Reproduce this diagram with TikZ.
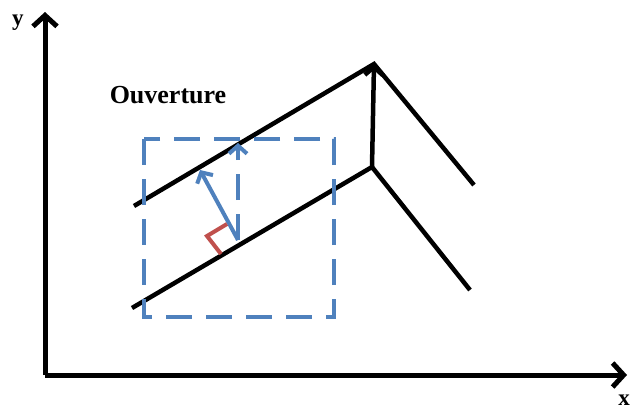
\documentclass[tikz,border=0pt]{standalone}
\usepackage{fontspec}
\setmainfont{Liberation Serif}
\usetikzlibrary{arrows.meta}
\definecolor{offblue}{RGB}{79,129,189}
\definecolor{offred}{RGB}{192,80,77}

\begin{document}
\begin{tikzpicture}[x=1pt,y=-1pt,
    axis/.style={line width=5pt,-{Straight Barb[length=11pt,width=24pt]}},
    wall/.style={line width=4.5pt},
    openbox/.style={offblue,line width=4pt,dash pattern=on 26pt off 14pt},
    normalarrow/.style={offblue,line width=4pt,-{Straight Barb[length=8pt,width=18pt]}},
    label/.style={font=\bfseries\fontsize{23}{23}\selectfont,inner sep=0pt}]
        % frame of the image, pixel units with y pointing down
        \useasboundingbox (0,0) rectangle (631,410);

        \coordinate (O) at (45,375);
        \coordinate (Y) at (45,12);
        \coordinate (X) at (627,375);

        % upper wall and lower wall, both with a kink
        \coordinate (U1) at (134,206);
        \coordinate (T) at (374,64);
        \coordinate (U2) at (474,185);
        \coordinate (L1) at (132,308);
        \coordinate (M) at (372,167);
        \coordinate (L2) at (470,290);

        % foot of the normal
        \coordinate (F) at (238,240);
        \coordinate (N) at (200,170);
        \coordinate (V) at (238,143);

        \draw[axis] (O) -- (Y);
        \draw[axis] (O) -- (X);
        \node[label] (ylab) at (18,23) {y};
        \node[label] (xlab) at (624,400) {x};

        \draw[wall] (U1) -- (T) -- (U2);
        \draw[wall] (L1) -- (M) -- (L2);
        \draw[line width=4.5pt,-{Straight Barb[length=8pt,width=18pt]}] (M) -- (T);

        \node[label,font=\bfseries\fontsize{26}{26}\selectfont] (ouv) at (168,95) {Ouverture};

        \draw[openbox] (144,139) rectangle (334,317);
        \draw[normalarrow,dash pattern=on 26pt off 14pt] (F) -- (V);
        \draw[normalarrow] (F) -- (N);
        \draw[offred,line width=4pt] (227,224) -- (207,236) -- (221,254);

    \end{tikzpicture}
\end{document}
